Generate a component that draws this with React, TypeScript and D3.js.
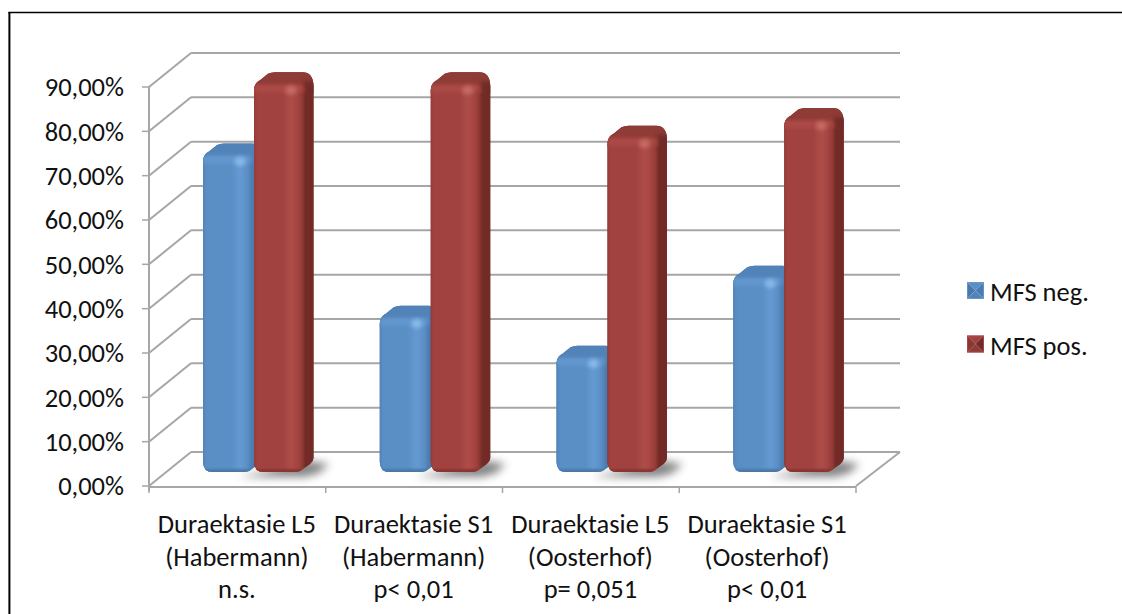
import React from "react";
import * as d3 from "d3";

const categories = [
  ["Duraektasie L5", "(Habermann)", "n.s."],
  ["Duraektasie S1", "(Habermann)", "p< 0,01"],
  ["Duraektasie L5", "(Oosterhof)", "p= 0,051"],
  ["Duraektasie S1", "(Oosterhof)", "p< 0,01"],
];
const seriesNames = ["MFS neg.", "MFS pos."];
const mfsNeg = [71, 34.5, 25.5, 43.5];
const mfsPos = [87, 87, 75, 79];
const tickValues = [0, 10, 20, 30, 40, 50, 60, 70, 80, 90];
const tickLabels = tickValues.map((t) => `${t},00%`);

const palettes = [
  { base: "#5a8fc6", light: "#659ad2", dark: "#4a78a8", cap: "#5283b8", edge: "#4a7cb0", glow: "#8fbdea" },
  { base: "#a2423f", light: "#ae4e49", dark: "#8a3633", cap: "#8f3b36", edge: "#722b28", glow: "#c96f69" },
];

const W = 1122;
const H = 614;
const depthX = 42;
const depthY = 34;
const y = d3.scaleLinear().domain([0, 90]).range([486, 87]);
const x = d3.scaleLinear().domain([0, 4]).range([149, 856]);
const barY = d3.scaleLinear().domain([0, 90]).range([472, 72]);
const barW = 50;
const sideW = 9.5;
const capH = 13;
const font = "Carlito, Lato, 'Open Sans', sans-serif";
const fontSize = 26.5;
const gridColor = "#a6a6a6";

function Bar({ x0, value, s, i }: { x0: number; value: number; s: number; i: number }) {
  const top = barY(value);
  const bottom = barY(0);
  const p = palettes[s];
  const r = 10;
  const x1 = x0 + barW;
  const capTop = top - capH;
  const outline = d3.path();
  outline.moveTo(x0, top + 6);
  outline.bezierCurveTo(x0, top, x0 + 2, top - 3, x0 + 6, top - 5);
  outline.lineTo(x0 + 14, capTop + 1.5);
  outline.quadraticCurveTo(x0 + 17, capTop, x0 + 21, capTop);
  outline.lineTo(x1 - 1, capTop);
  outline.bezierCurveTo(x1 + 5, capTop, x1 + sideW, capTop + 4, x1 + sideW, capTop + 14);
  outline.lineTo(x1 + sideW, bottom - 14);
  outline.quadraticCurveTo(x1 + sideW, bottom - 11, x1 + 6, bottom - 8);
  outline.lineTo(x1 - 4, bottom - 1);
  outline.quadraticCurveTo(x1 - 7, bottom, x1 - 10, bottom);
  outline.lineTo(x0 + r, bottom);
  outline.quadraticCurveTo(x0, bottom, x0, bottom - r);
  outline.closePath();

  const id = `b${s}${i}`;
  return (
    <g>
      <clipPath id={id}>
        <path d={outline.toString()} />
      </clipPath>
      <path d={outline.toString()} fill={p.edge} />
      <g clipPath={`url(#${id})`}>
        <rect x={x0 - 2} y={capTop - 2} width={barW + sideW + 4} height={capH + 10} fill={p.cap} />
        <rect x={x1} y={capTop + 9} width={sideW + 4} height={bottom - capTop} fill={p.edge} filter="url(#softer)" />
        <rect x={x0 - 3} y={top} width={barW + 3} height={bottom - top + 3} rx={5} fill={`url(#face${s})`} filter="url(#soft)" />
        <rect x={x0 - 3} y={top - 1} width={barW + 2} height={8} rx={3} fill={p.light} opacity={0.75} filter="url(#softer)" />
        <ellipse cx={x1 - 13} cy={top + 5} rx={5.5} ry={4.5} fill={p.glow} opacity={0.9} filter="url(#softer)" />
        <rect x={x0 - 2} y={bottom - 3} width={barW + 4} height={5} fill={p.dark} filter="url(#soft)" />
      </g>
    </g>
  );
}

function LegendSwatch({ sx, sy, s }: { sx: number; sy: number; s: number }) {
  const p = palettes[s];
  const n = 17;
  const cx = sx + n / 2;
  const cy = sy + n / 2;
  return (
    <g>
      <polygon points={`${sx},${sy} ${sx + n},${sy} ${cx},${cy}`} fill={p.base} />
      <polygon points={`${sx + n},${sy} ${sx + n},${sy + n} ${cx},${cy}`} fill={p.edge} />
      <polygon points={`${sx},${sy} ${sx},${sy + n} ${cx},${cy}`} fill={p.dark} />
      <polygon points={`${sx},${sy + n} ${sx + n},${sy + n} ${cx},${cy}`} fill={p.cap} />
      <rect x={sx + 0.5} y={sy + 0.5} width={n - 1} height={n - 1} fill="none" stroke={p.light} strokeOpacity={0.8} />
    </g>
  );
}

export default function App() {
  const step = x(1) - x(0);
  const offset = 54;
  return (
    <svg
      width={W}
      height={H}
      viewBox={`0 0 ${W} ${H}`}
      style={{ position: "absolute", left: 0, top: 0, background: "#fff" }}
    >
      <defs>
        <filter id="soft" x="-30%" y="-30%" width="160%" height="160%">
          <feGaussianBlur stdDeviation="1" />
        </filter>
        <filter id="softer" x="-40%" y="-40%" width="180%" height="180%">
          <feGaussianBlur stdDeviation="2" />
        </filter>
        <filter id="shadow" x="-30%" y="-80%" width="160%" height="260%">
          <feGaussianBlur stdDeviation="4" />
        </filter>
        {palettes.map((p, s) => (
          <linearGradient id={`face${s}`} key={s} x1="0" x2="1" y1="0" y2="0">
            <stop offset="0" stopColor={p.dark} />
            <stop offset="0.12" stopColor={p.base} />
            <stop offset="0.6" stopColor={p.base} />
            <stop offset="0.76" stopColor={p.light} />
            <stop offset="0.9" stopColor={p.base} />
            <stop offset="1" stopColor={p.dark} />
          </linearGradient>
        ))}
      </defs>

      {/* sheet border */}
      <line x1={10.5} x2={10.5} y1={13} y2={H} stroke="#999" strokeWidth={1} />
      <line x1={9.2} x2={9.2} y1={12} y2={H} stroke="#000" strokeWidth={1.6} />
      <line x1={8.4} x2={W} y1={12.6} y2={12.6} stroke="#000" strokeWidth={1.5} />

      {/* back wall gridlines and side wall slants */}
      {tickValues.map((t) => (
        <g key={t} fill="none" stroke={gridColor} strokeWidth={2}>
          <line x1={x(0) + depthX} x2={x(4) + depthX + 2} y1={y(t) - depthY} y2={y(t) - depthY} />
          <line x1={x(0)} x2={x(0) + depthX} y1={y(t)} y2={y(t) - depthY} />
        </g>
      ))}
      <line x1={x(4)} x2={x(4) + depthX + 2} y1={y(0)} y2={y(0) - depthY} stroke={gridColor} strokeWidth={2} />

      {/* value axis */}
      <line x1={x(0)} x2={x(0)} y1={y(90)} y2={y(0) + 5} stroke={gridColor} strokeWidth={2} />
      {tickValues.map((t, i) => (
        <g key={t}>
          <line x1={x(0) - 7} x2={x(0)} y1={y(t)} y2={y(t)} stroke={gridColor} strokeWidth={1.5} />
          <text x={124} y={y(t)} dy="0.35em" textAnchor="end" fontFamily={font} fontSize={fontSize} fill="#111">
            {tickLabels[i]}
          </text>
        </g>
      ))}

      {/* category axis */}
      <line x1={x(0)} x2={x(4)} y1={y(0) + 1} y2={y(0) + 1} stroke={gridColor} strokeWidth={2} />
      {d3.range(5).map((i) => (
        <line key={i} x1={x(i)} x2={x(i)} y1={y(0)} y2={y(0) + 7} stroke={gridColor} strokeWidth={1.5} />
      ))}
      {categories.map((lines, i) =>
        lines.map((line, j) => (
          <text
            key={j}
            x={x(i) + step / 2 - 0.5}
            y={524 + j * 32.5}
            dy="0.35em"
            textAnchor="middle"
            fontFamily={font}
            fontSize={fontSize}
            fill="#111"
          >
            {line}
          </text>
        ))
      )}

      {/* bars with their floor shadows */}
      {categories.map((_, i) => (
        <g key={i}>
          <polygon
            points={`${x(i) + offset + 36},${barY(0) + 5} ${x(i) + offset + 102},${barY(0) + 5} ${x(i) + offset + 116},${barY(0) + 1} ${x(i) + offset + 126},${barY(0) - 8} ${x(i) + offset + 100},${barY(0) - 12} ${x(i) + offset + 60},${barY(0)}`}
            fill="#666"
            opacity={0.8}
            filter="url(#shadow)"
          />
          <Bar x0={x(i) + offset} value={mfsNeg[i]} s={0} i={i} />
          <Bar x0={x(i) + offset + 51} value={mfsPos[i]} s={1} i={i} />
        </g>
      ))}

      {/* legend */}
      {seriesNames.map((name, s) => (
        <g key={name}>
          <LegendSwatch sx={967} sy={282 + s * 53.5} s={s} />
          <text x={990} y={292 + s * 53.5} dy="0.35em" fontFamily={font} fontSize={fontSize} fill="#111">
            {name}
          </text>
        </g>
      ))}
    </svg>
  );
}
